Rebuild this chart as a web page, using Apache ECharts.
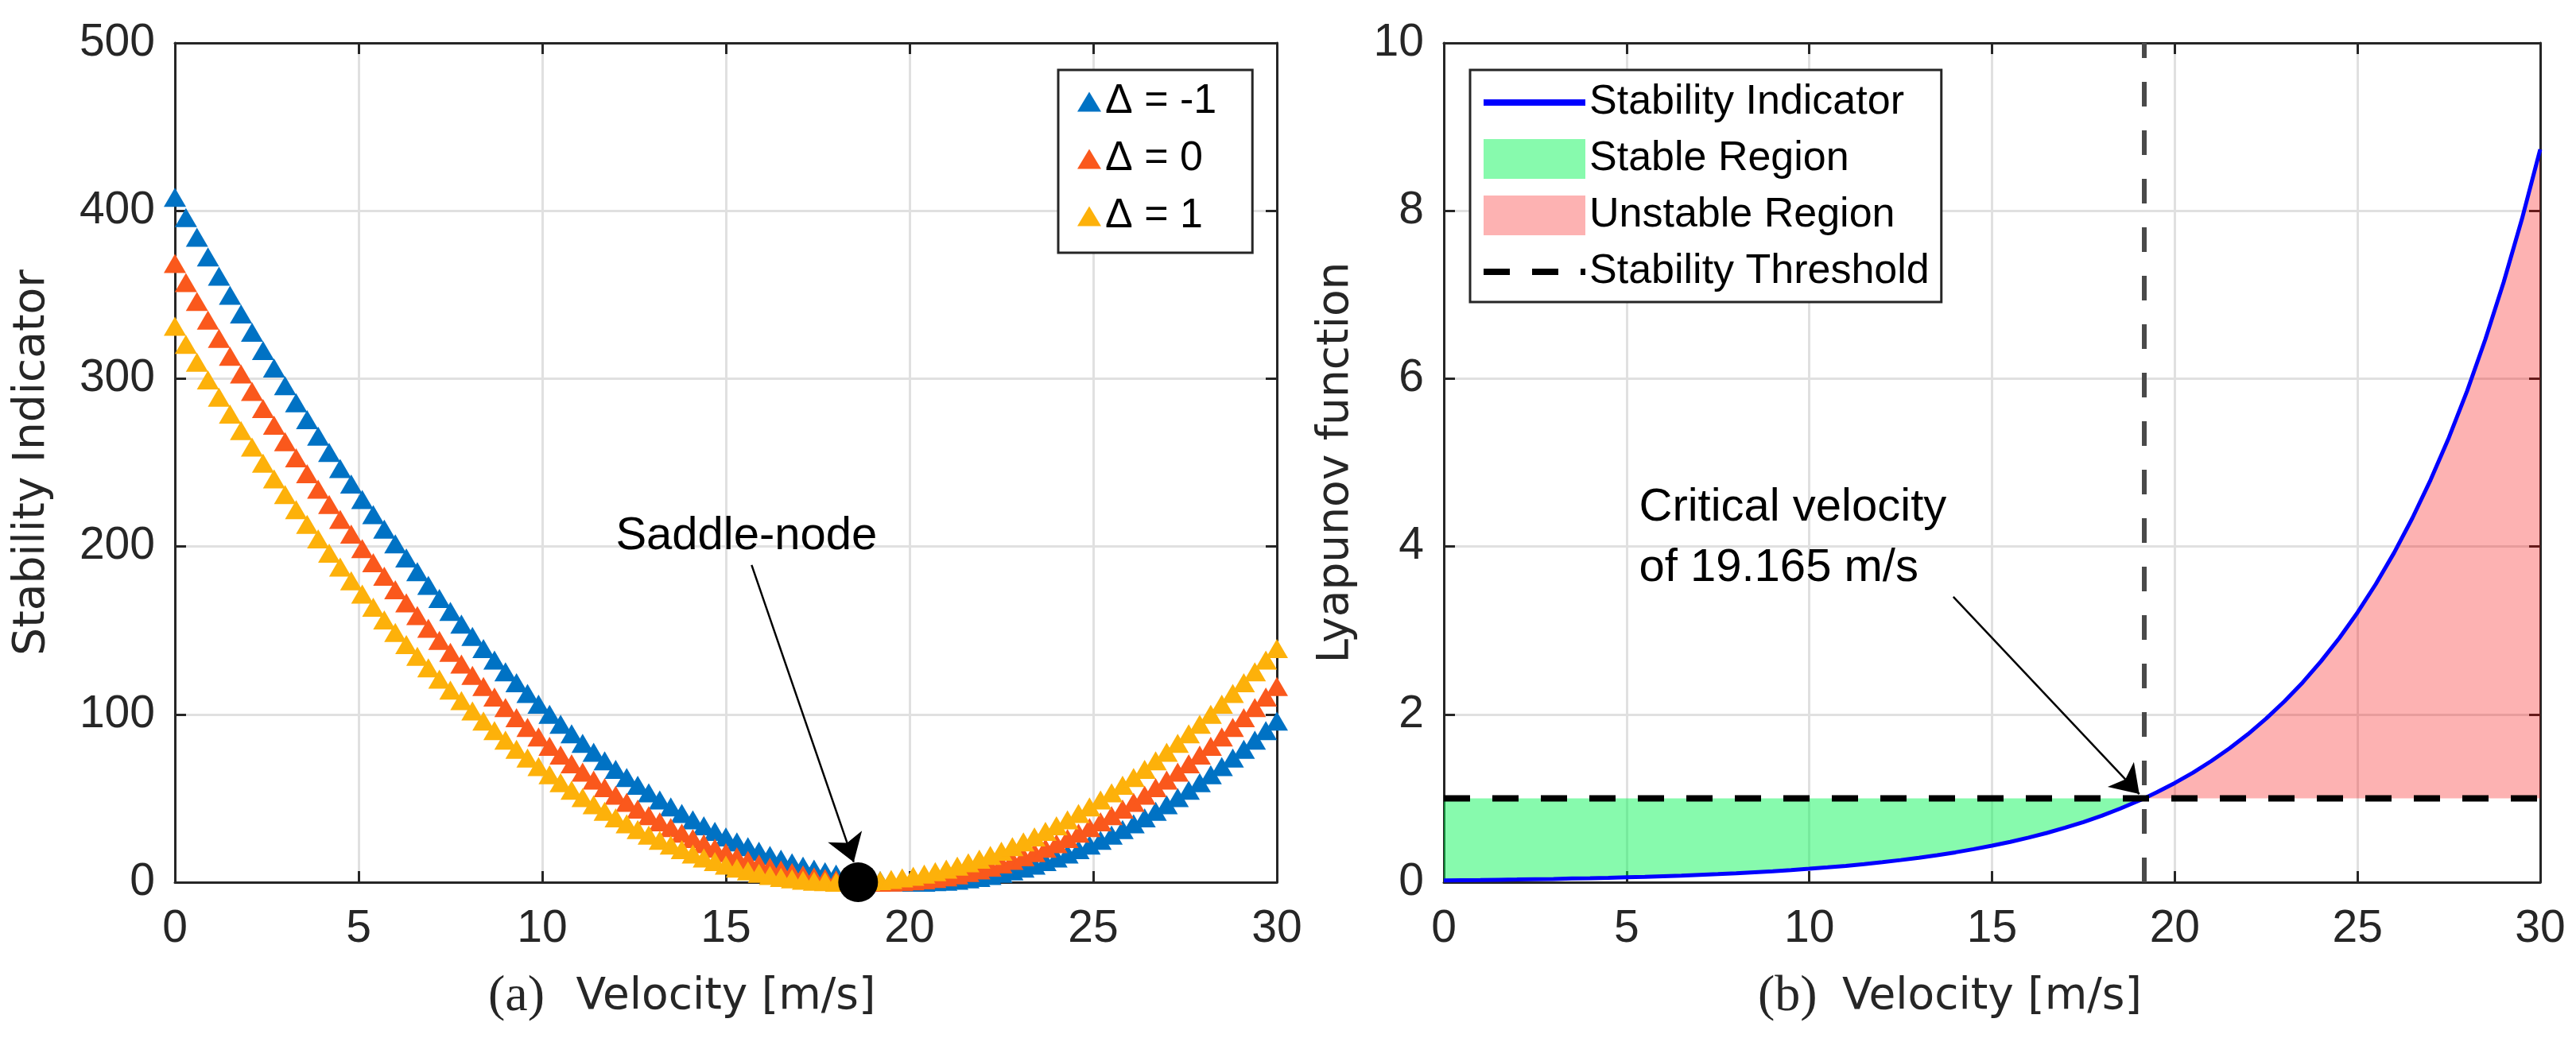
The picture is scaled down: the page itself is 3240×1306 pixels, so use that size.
<!DOCTYPE html>
<html>
<head>
<meta charset="utf-8">
<script src="https://cdn.jsdelivr.net/npm/echarts@6/dist/echarts.min.js"></script>
<style>html,body{margin:0;padding:0;background:#fff}#c{width:3240px;height:1306px}</style>
</head>
<body>
<div id="c"></div>
<script>
// ---------- (a) Stability indicator vs velocity ----------
const velocity = [0,0.3,0.6,0.9,1.2,1.5,1.8,2.1,2.4,2.7,3,3.3,3.6,3.9,4.2,4.5,4.8,5.1,5.4,5.7,6,6.3,6.6,6.9,7.2,7.5,7.8,8.1,8.4,8.7,9,9.3,9.6,9.9,10.2,10.5,10.8,11.1,11.4,11.7,12,12.3,12.6,12.9,13.2,13.5,13.8,14.1,14.4,14.7,15,15.3,15.6,15.9,16.2,16.5,16.8,17.1,17.4,17.7,18,18.3,18.6,18.9,19.2,19.5,19.8,20.1,20.4,20.7,21,21.3,21.6,21.9,22.2,22.5,22.8,23.1,23.4,23.7,24,24.3,24.6,24.9,25.2,25.5,25.8,26.1,26.4,26.7,27,27.3,27.6,27.9,28.2,28.5,28.8,29.1,29.4,29.7,30];
const deltaNames = ['Δ = -1', 'Δ = 0', 'Δ = 1'];
const indicatorDeltaMinus1 = [408.0,396.0,384.2,372.5,361.0,349.7,338.6,327.6,316.8,306.3,295.8,285.6,275.6,265.7,256.0,246.5,237.2,228.0,219.0,210.3,201.6,193.2,185.0,176.9,169.0,161.3,153.8,146.4,139.2,132.3,125.4,118.8,112.4,106.1,100.0,94.1,88.4,82.8,77.4,72.3,67.2,62.4,57.8,53.3,49.0,44.9,41.0,37.2,33.6,30.3,27.0,24.0,21.2,18.5,16.0,13.7,11.6,9.6,7.8,6.3,4.8,3.6,2.6,1.7,1.0,0.5,0.2,0.0,0.0,0.3,0.6,1.2,2.0,2.9,4.0,5.3,6.8,8.4,10.2,12.3,14.4,16.8,19.4,22.1,25.0,28.1,31.4,34.8,38.4,42.3,46.2,50.4,54.8,59.3,64.0,68.9,74.0,79.2,84.6,90.3,96.0];
const indicatorDelta0 = [368.6,357.2,346.0,334.9,324.0,313.3,302.8,292.4,282.2,272.3,262.4,252.8,243.4,234.1,225.0,216.1,207.4,198.8,190.4,182.3,174.2,166.4,158.8,151.3,144.0,136.9,130.0,123.2,116.6,110.3,104.0,98.0,92.2,86.5,81.0,75.7,70.6,65.6,60.8,56.3,51.8,47.6,43.6,39.7,36.0,32.5,29.2,26.0,23.0,20.3,17.6,15.2,13.0,10.9,9.0,7.3,5.8,4.4,3.2,2.3,1.4,0.8,0.4,0.1,0.0,0.1,0.4,0.8,1.4,2.3,3.2,4.4,5.8,7.3,9.0,10.9,13.0,15.2,17.6,20.3,23.0,26.0,29.2,32.5,36.0,39.7,43.6,47.6,51.8,56.3,60.8,65.6,70.6,75.7,81.0,86.5,92.2,98.0,104.0,110.3,116.6];
const indicatorDeltaPlus1 = [331.2,320.4,309.8,299.3,289.0,278.9,269.0,259.2,249.6,240.3,231.0,222.0,213.2,204.5,196.0,187.7,179.6,171.6,163.8,156.3,148.8,141.6,134.6,127.7,121.0,114.5,108.2,102.0,96.0,90.3,84.6,79.2,74.0,68.9,64.0,59.3,54.8,50.4,46.2,42.3,38.4,34.8,31.4,28.1,25.0,22.1,19.4,16.8,14.4,12.3,10.2,8.4,6.8,5.3,4.0,2.9,2.0,1.2,0.6,0.3,0.0,0.0,0.2,0.5,1.0,1.7,2.6,3.6,4.8,6.3,7.8,9.6,11.6,13.7,16.0,18.5,21.2,24.0,27.0,30.3,33.6,37.2,41.0,44.9,49.0,53.3,57.8,62.4,67.2,72.3,77.4,82.8,88.4,94.1,100.0,106.1,112.4,118.8,125.4,132.3,139.2];
const saddleNode = [18.6, 0];
const saddleText = 'Saddle-node';
const saddleTextAt = [15.56, 206];
const saddleArrowFrom = [15.7, 189];
const saddleArrowTo = [18.48, 12];

// ---------- (b) Lyapunov function vs velocity ----------
const lyapVelocity = [0,0.5,1,1.5,2,2.5,3,3.5,4,4.5,5,5.5,6,6.5,7,7.5,8,8.5,9,9.5,10,10.5,11,11.5,12,12.5,13,13.5,14,14.5,15,15.5,16,16.5,17,17.5,18,18.5,19,19.165,19.5,20,20.5,21,21.5,22,22.5,23,23.5,24,24.5,25,25.5,26,26.5,27,27.5,28,28.5,29,29.5,30];
const lyapValue = [0.022,0.024,0.026,0.029,0.032,0.036,0.039,0.044,0.048,0.053,0.059,0.065,0.072,0.079,0.088,0.097,0.107,0.119,0.131,0.145,0.160,0.177,0.195,0.216,0.239,0.264,0.292,0.322,0.356,0.394,0.435,0.481,0.531,0.587,0.649,0.717,0.792,0.876,0.968,1.000,1.070,1.182,1.306,1.444,1.596,1.763,1.949,2.154,2.380,2.631,2.907,3.213,3.551,3.924,4.337,4.793,5.297,5.854,6.470,7.150,7.902,8.733];
const stabilityThreshold = 1;
const criticalVelocity = 19.165;
const criticalText = 'Critical velocity\nof 19.165 m/s';
const criticalTextAt = [5.33, 4.1];
const criticalArrowFrom = [13.94, 3.40];
const criticalArrowTo = [19.03, 1.05];

// ---------- axis ticks / labels ----------
const velocityTicks = { min: 0, max: 30, interval: 5 };
const indicatorTicks = { min: 0, max: 500, interval: 100 };
const lyapTicks = { min: 0, max: 10, interval: 2 };
const xTitle = 'Velocity [m/s]';
const panelTags = ['(a)', '(b)'];

// ---------- styles ----------
const SANS = "'Liberation Sans', Arial, sans-serif";
const WIDE = "'DejaVu Sans', Verdana, sans-serif";
const SERIF = "'Liberation Serif', 'Times New Roman', serif";
const AX = '#262626';
const GRIDC = '#e0e0e0';
const C_BLUE = '#0072C4', C_RED = '#FA581C', C_YEL = '#FDB10A';
const GREEN = 'rgba(0,245,80,0.47)';
const RED = 'rgba(250,0,0,0.30)';

function xAxisFor(grid, pos, main) {
  const a = {
    type: 'value', gridIndex: grid, position: pos,
    min: velocityTicks.min, max: velocityTicks.max, interval: velocityTicks.interval,
    axisLine: { show: true, onZero: false, lineStyle: { color: AX, width: 3 } },
    axisTick: { show: true, inside: true, length: 14, lineStyle: { color: AX, width: 3 } },
    axisLabel: { show: main, margin: 31, fontSize: 57, lineHeight: 57, fontFamily: SANS, color: AX, showMinLabel: true, showMaxLabel: true },
    splitLine: { show: main, lineStyle: { color: GRIDC, width: 3 } }
  };
  if (main) {
    a.name = xTitle;
    a.nameLocation = 'middle';
    a.nameGap = 117;
    a.nameTextStyle = { fontFamily: WIDE, fontSize: 55, lineHeight: 55, color: AX };
  }
  return a;
}
function yAxisFor(grid, pos, main, ticks, name, gap) {
  const a = {
    type: 'value', gridIndex: grid, position: pos,
    min: ticks.min, max: ticks.max, interval: ticks.interval,
    axisLine: { show: true, onZero: false, lineStyle: { color: AX, width: 3 } },
    axisTick: { show: true, inside: true, length: 14, lineStyle: { color: AX, width: 3 } },
    axisLabel: { show: main, margin: 25, fontSize: 57, fontFamily: SANS, color: AX, showMinLabel: true, showMaxLabel: true },
    splitLine: { show: main, lineStyle: { color: GRIDC, width: 3 } }
  };
  if (main) {
    a.name = name;
    a.nameLocation = 'middle';
    a.nameRotate = 90;
    a.nameGap = gap;
    a.nameTextStyle = { fontFamily: WIDE, fontSize: 55, lineHeight: 55, color: AX };
  }
  return a;
}

const pair = (xs, ys) => xs.map((x, i) => [x, ys[i]]);
const curve = pair(lyapVelocity, lyapValue);
// region outlines (built from the arrays above)
const stablePolygon = curve.filter(p => p[0] <= criticalVelocity)
  .concat([[velocityTicks.min, stabilityThreshold]]);
const unstablePolygon = [[criticalVelocity, stabilityThreshold]]
  .concat(curve.filter(p => p[0] >= criticalVelocity))
  .concat([[velocityTicks.max, stabilityThreshold]]);

function polygonSeries(name, pts, color) {
  return {
    name: name, type: 'custom', xAxisIndex: 2, yAxisIndex: 2, silent: true, clip: true,
    itemStyle: { color: color }, z: 2,
    data: pts,
    renderItem: function (params, api) {
      if (params.dataIndex !== 0) return null;
      return {
        type: 'polygon',
        shape: { points: pts.map(p => api.coord(p)) },
        style: { fill: color, stroke: null }
      };
    }
  };
}

const scatterSeries = [indicatorDeltaMinus1, indicatorDelta0, indicatorDeltaPlus1].map((vals, k) => ({
  name: deltaNames[k], type: 'scatter', xAxisIndex: 0, yAxisIndex: 0,
  symbol: 'triangle', symbolSize: [28, 24],
  itemStyle: { color: [C_BLUE, C_RED, C_YEL][k], opacity: 1 },
  data: pair(velocity, vals), z: 3
}));

const option = {
  animation: false,
  backgroundColor: '#ffffff',
  textStyle: { fontFamily: SANS },
  title: [
    { text: panelTags[0], left: 614, top: 1222, padding: 0, textStyle: { fontFamily: SERIF, fontSize: 64, lineHeight: 64, fontWeight: 'normal', color: AX } },
    { text: panelTags[1], left: 2211, top: 1222, padding: 0, textStyle: { fontFamily: SERIF, fontSize: 64, lineHeight: 64, fontWeight: 'normal', color: AX } }
  ],
  grid: [
    { left: 220, top: 54, width: 1386, height: 1056 },
    { left: 1816, top: 54, width: 1379, height: 1056 }
  ],
  xAxis: [
    xAxisFor(0, 'bottom', true),
    xAxisFor(0, 'top', false),
    xAxisFor(1, 'bottom', true),
    xAxisFor(1, 'top', false)
  ],
  yAxis: [
    yAxisFor(0, 'left', true, indicatorTicks, 'Stability Indicator', 152),
    yAxisFor(0, 'right', false, indicatorTicks),
    yAxisFor(1, 'left', true, lyapTicks, 'Lyapunov function', 108),
    yAxisFor(1, 'right', false, lyapTicks)
  ],
  legend: [
    {
      data: deltaNames, orient: 'vertical', left: 1331, top: 88,
      padding: [14, 45, 20, 24], itemGap: 20, itemWidth: 30, itemHeight: 25, itemTextGap: 22,
      backgroundColor: '#fff', borderColor: AX, borderWidth: 3, borderRadius: 0,
      textStyle: { fontSize: 52, lineHeight: 50, fontFamily: SANS, color: '#000' }
    },
    {
      data: [
        { name: 'Stability Indicator', itemStyle: { opacity: 0 }, lineStyle: { color: '#0000FF', width: 8, type: 'solid', opacity: 1 } },
        { name: 'Stable Region', icon: 'rect', itemStyle: { color: GREEN, opacity: 1 } },
        { name: 'Unstable Region', icon: 'rect', itemStyle: { color: RED, opacity: 1 } },
        { name: 'Stability Threshold', itemStyle: { opacity: 0 }, lineStyle: { color: '#000', width: 8, type: [33, 28], opacity: 1 } }
      ],
      orient: 'vertical', left: 1849, top: 88,
      padding: [15, 15, 12, 13], itemGap: 19, itemWidth: 128, itemHeight: 50, itemTextGap: 11,
      backgroundColor: '#fff', borderColor: AX, borderWidth: 3, borderRadius: 0,
      textStyle: { fontSize: 52, lineHeight: 50, fontFamily: SANS, color: '#000' }
    }
  ],
  series: [
    ...scatterSeries,
    {
      name: 'saddle', type: 'scatter', xAxisIndex: 0, yAxisIndex: 0,
      symbol: 'circle', symbolSize: 50, itemStyle: { color: '#000', opacity: 1 },
      data: [saddleNode], z: 6, silent: true,
      markLine: {
        silent: true, symbol: ['none', 'arrow'], symbolSize: 34,
        lineStyle: { color: '#000', width: 2.5, type: 'solid' },
        label: { show: false },
        data: [[{ coord: saddleArrowFrom }, { coord: saddleArrowTo }]]
      },
      markPoint: {
        silent: true, symbol: 'rect', symbolSize: 1, itemStyle: { color: 'rgba(0,0,0,0)' },
        label: { show: true, position: 'inside', formatter: saddleText, fontSize: 58, fontFamily: SANS, color: '#000' },
        data: [{ coord: saddleTextAt }]
      }
    },
    polygonSeries('Stable Region', stablePolygon, GREEN),
    polygonSeries('Unstable Region', unstablePolygon, RED),
    {
      name: 'Stability Indicator', type: 'line', xAxisIndex: 2, yAxisIndex: 2,
      symbol: 'none', color: '#0000FF', lineStyle: { color: '#0000FF', width: 5 },
      data: curve, z: 4,
      markLine: {
        silent: true, symbol: ['none', 'arrow'], symbolSize: 34,
        lineStyle: { color: '#000', width: 2.5, type: 'solid' },
        label: { show: false },
        data: [[{ coord: criticalArrowFrom }, { coord: criticalArrowTo }]]
      },
      markPoint: {
        silent: true, symbol: 'rect', symbolSize: 1, itemStyle: { color: 'rgba(0,0,0,0)' },
        label: { show: true, position: 'right', distance: 0, align: 'left', verticalAlign: 'middle',
          formatter: criticalText, fontSize: 58, lineHeight: 76, fontFamily: SANS, color: '#000' },
        data: [{ coord: criticalTextAt }]
      }
    },
    {
      name: 'Stability Threshold', type: 'line', xAxisIndex: 2, yAxisIndex: 2,
      symbol: 'none', color: '#000', lineStyle: { color: '#000', width: 8, type: [33, 28] },
      data: [[velocityTicks.min, stabilityThreshold], [velocityTicks.max, stabilityThreshold]], z: 5,
      markLine: {
        silent: true, symbol: ['none', 'none'],
        lineStyle: { color: '#4a4a4a', width: 6, type: [31, 30] },
        label: { show: false },
        data: [{ xAxis: criticalVelocity }]
      }
    }
  ]
};

const chart = echarts.init(document.getElementById('c'), null, { renderer: 'canvas' });
chart.setOption(option);
</script>
</body>
</html>
